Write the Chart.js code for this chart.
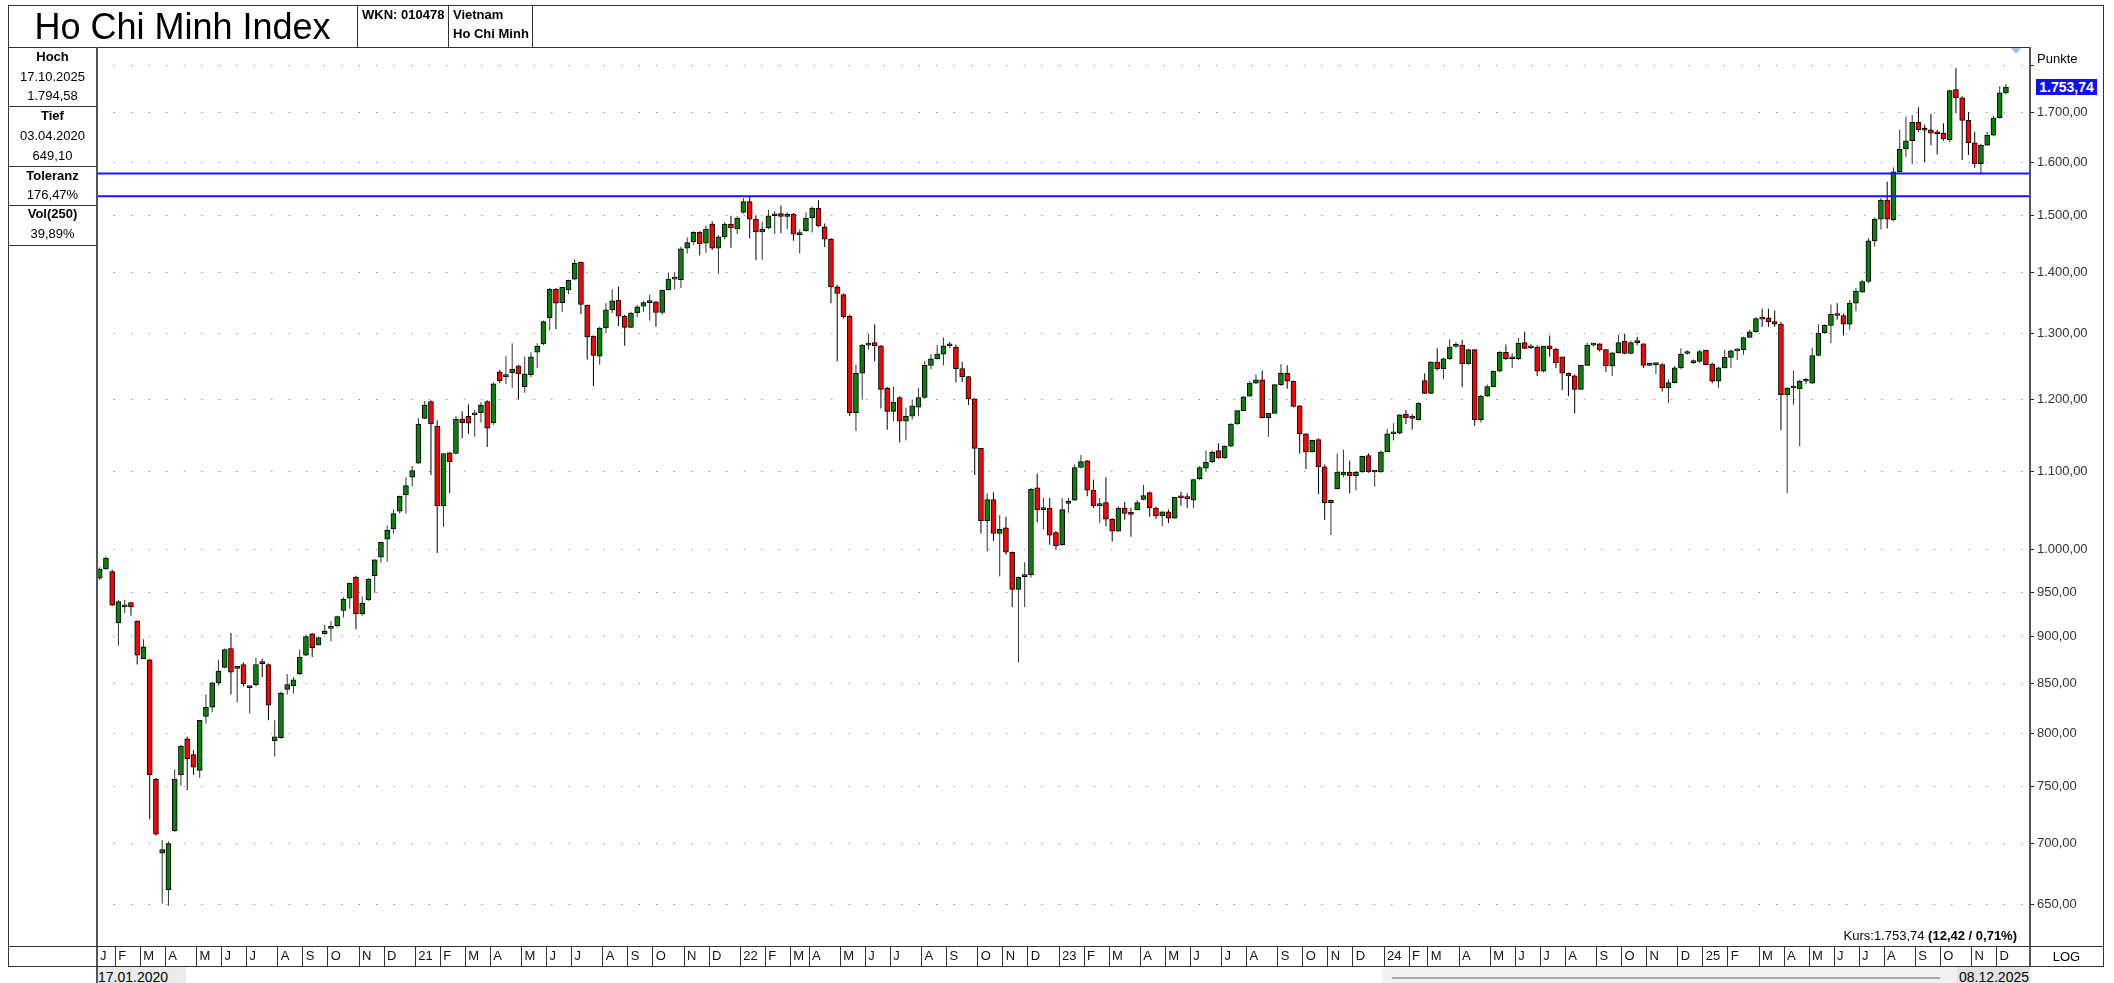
<!DOCTYPE html>
<html>
<head>
<meta charset="utf-8">
<title>Ho Chi Minh Index</title>
<script src="https://cdn.jsdelivr.net/npm/chart.js@4.4.1/dist/chart.umd.min.js"></script>
<style>
  html, body { margin: 0; padding: 0; background: #fff; }
  body { width: 2114px; height: 983px; position: relative; overflow: hidden;
         font-family: "Liberation Sans", Arial, sans-serif; color: #000; }
  #chart { position: absolute; left: 0; top: 0; }
  .ln { position: absolute; background: #333; }
  .t { position: absolute; white-space: nowrap; font-size: 13px; line-height: 13px; }
  .c { text-align: center; }
  .b { font-weight: bold; }
</style>
</head>
<body>
<canvas id="chart" width="2114" height="983"></canvas>

<!-- frame -->
<div class="ln" style="left:8px;top:5px;width:2096px;height:1px"></div>
<div class="ln" style="left:8px;top:47px;width:2023px;height:1px"></div>
<div class="ln" style="left:8px;top:5px;width:1px;height:962px"></div>
<div class="ln" style="left:357px;top:5px;width:1px;height:42px"></div>
<div class="ln" style="left:448px;top:5px;width:1px;height:42px"></div>
<div class="ln" style="left:532px;top:5px;width:1px;height:42px"></div>
<div class="ln" style="left:2103px;top:5px;width:1px;height:962px"></div>
<div class="ln" style="left:96px;top:47px;width:2px;height:936px;background:#555"></div>
<div class="ln" style="left:2029px;top:47px;width:2px;height:920px;background:#555"></div>
<div class="ln" style="left:8px;top:106px;width:89px;height:1px"></div>
<div class="ln" style="left:8px;top:166px;width:89px;height:1px"></div>
<div class="ln" style="left:8px;top:205px;width:89px;height:1px"></div>
<div class="ln" style="left:8px;top:245px;width:89px;height:1px"></div>
<div class="ln" style="left:8px;top:946px;width:2096px;height:1px"></div>
<div class="ln" style="left:8px;top:966px;width:2096px;height:1px"></div>

<!-- header -->
<div class="t c" style="left:8px;top:9px;width:349px;font-size:36px;line-height:36px">Ho Chi Minh Index</div>
<div class="t b" style="left:362px;top:8px">WKN: 010478</div>
<div class="t b" style="left:453px;top:8px">Vietnam</div>
<div class="t b" style="left:453px;top:27px">Ho Chi Minh</div>

<!-- left panel -->
<div class="t c b" style="left:8px;width:89px;top:50px">Hoch</div>
<div class="t c" style="left:8px;width:89px;top:70px">17.10.2025</div>
<div class="t c" style="left:8px;width:89px;top:89px">1.794,58</div>
<div class="t c b" style="left:8px;width:89px;top:109px">Tief</div>
<div class="t c" style="left:8px;width:89px;top:129px">03.04.2020</div>
<div class="t c" style="left:8px;width:89px;top:149px">649,10</div>
<div class="t c b" style="left:8px;width:89px;top:169px">Toleranz</div>
<div class="t c" style="left:8px;width:89px;top:188px">176,47%</div>
<div class="t c b" style="left:8px;width:89px;top:207px">Vol(250)</div>
<div class="t c" style="left:8px;width:89px;top:227px">39,89%</div>

<!-- right side -->
<div class="t" style="left:2037px;top:52px">Punkte</div>
<div style="position:absolute;left:2011px;top:48px;width:0;height:0;border-left:5px solid transparent;border-right:5px solid transparent;border-top:6px solid #9fc4ef"></div>
<div id="lastBox" class="t b" style="left:2036px;top:79px;width:61px;height:16px;line-height:16px;background:#1010f0;color:#fff;font-size:14px;text-align:center"></div>
<div class="t c" style="left:2030px;width:73px;top:950px">LOG</div>
<div id="kurs" class="t" style="right:97px;top:929px"></div>

<!-- date row -->
<div style="position:absolute;left:98px;top:967px;width:88px;height:16px;background:#ebebeb"></div>
<div class="t" style="left:98px;top:970px;font-size:14px;line-height:14px">17.01.2020</div>
<div style="position:absolute;left:1382px;top:967px;width:648px;height:16px;background:#f2f2f2"></div>
<div style="position:absolute;left:1392px;top:977px;width:548px;height:2px;background:#a8a8a8"></div>
<div style="position:absolute;left:1957px;top:967px;width:73px;height:16px;background:#e4e4e4"></div>
<div class="t" style="right:85px;top:970px;font-size:14px;line-height:14px">08.12.2025</div>

<script>
// weekly candles, 17.01.2020 .. 08.12.2025 (Punkte)
var open = [
  966, 977, 974, 915, 933, 938, 917, 876, 875, 757,
  692, 662, 711, 761, 795, 780, 765, 817, 826, 851,
  867, 887, 866, 870, 846, 849, 872, 870, 793, 796,
  844, 848, 860, 880, 903, 891, 903, 909, 912, 929,
  943, 967, 925, 941, 969, 991, 1013, 1026, 1048, 1069,
  1092, 1111, 1173, 1197, 1162, 1055, 1125, 1124, 1172, 1176,
  1178, 1181, 1197, 1167, 1241, 1234, 1240, 1250, 1219, 1237,
  1271, 1284, 1325, 1372, 1350, 1371, 1389, 1418, 1346, 1296,
  1265, 1309, 1338, 1354, 1328, 1310, 1333, 1344, 1350, 1351,
  1334, 1371, 1389, 1388, 1442, 1453, 1470, 1451, 1485, 1442,
  1462, 1485, 1476, 1506, 1526, 1494, 1471, 1478, 1500, 1504,
  1499, 1503, 1466, 1473, 1496, 1514, 1480, 1458, 1376, 1363,
  1328, 1181, 1239, 1282, 1286, 1281, 1217, 1183, 1203, 1169,
  1176, 1189, 1203, 1251, 1261, 1268, 1281, 1279, 1246, 1234,
  1201, 1131, 1036, 1063, 1020, 1027, 997, 953, 968, 970,
  1078, 1050, 1052, 1021, 1006, 1058, 1062, 1105, 1114, 1075,
  1055, 1059, 1038, 1023, 1052, 1045, 1050, 1063, 1072, 1052,
  1042, 1047, 1039, 1066, 1065, 1062, 1090, 1104, 1113, 1128,
  1118, 1134, 1165, 1184, 1205, 1224, 1229, 1174, 1180, 1222,
  1239, 1227, 1191, 1151, 1126, 1143, 1106, 1059, 1077, 1095,
  1099, 1094, 1099, 1121, 1099, 1099, 1126, 1151, 1152, 1179,
  1174, 1171, 1228, 1209, 1256, 1246, 1261, 1280, 1282, 1253,
  1275, 1171, 1205, 1219, 1242, 1271, 1261, 1261, 1286, 1278,
  1279, 1242, 1281, 1276, 1264, 1239, 1235, 1215, 1251, 1282,
  1284, 1275, 1250, 1270, 1288, 1269, 1287, 1284, 1251, 1252,
  1252, 1217, 1225, 1247, 1269, 1255, 1257, 1274, 1253, 1227,
  1247, 1263, 1273, 1275, 1294, 1303, 1324, 1325, 1319, 1315,
  1207, 1217, 1216, 1227, 1224, 1266, 1301, 1313, 1330, 1329,
  1315, 1349, 1367, 1385, 1455, 1494, 1529, 1493, 1582, 1627,
  1643, 1680, 1665, 1665, 1658, 1658, 1645, 1748, 1731, 1684,
  1639, 1598, 1634, 1654, 1689, 1741
];
var high = [
  979, 992, 976, 941, 941, 939, 918, 897, 876, 758,
  703, 702, 766, 789, 797, 784, 813, 839, 852, 875,
  887, 904, 868, 872, 847, 877, 876, 871, 813, 842,
  860, 857, 886, 902, 904, 900, 913, 917, 923, 944,
  961, 969, 945, 966, 989, 1010, 1030, 1050, 1068, 1092,
  1107, 1173, 1198, 1199, 1170, 1124, 1126, 1176, 1183, 1193,
  1185, 1196, 1199, 1225, 1244, 1265, 1285, 1252, 1264, 1271,
  1285, 1321, 1374, 1374, 1376, 1388, 1423, 1419, 1347, 1297,
  1311, 1349, 1372, 1376, 1330, 1335, 1346, 1353, 1363, 1352,
  1371, 1400, 1400, 1445, 1461, 1472, 1472, 1482, 1490, 1465,
  1488, 1500, 1499, 1532, 1535, 1501, 1489, 1511, 1508, 1519,
  1506, 1505, 1475, 1506, 1517, 1529, 1486, 1460, 1379, 1365,
  1330, 1252, 1284, 1300, 1315, 1282, 1219, 1219, 1205, 1188,
  1200, 1217, 1257, 1268, 1282, 1294, 1287, 1283, 1256, 1235,
  1202, 1131, 1071, 1072, 1043, 1041, 998, 968, 985, 1078,
  1097, 1065, 1065, 1023, 1065, 1065, 1109, 1122, 1115, 1089,
  1065, 1092, 1039, 1054, 1060, 1052, 1062, 1082, 1073, 1054,
  1048, 1050, 1066, 1073, 1071, 1090, 1107, 1128, 1128, 1138,
  1135, 1166, 1185, 1205, 1227, 1237, 1243, 1180, 1222, 1253,
  1251, 1228, 1192, 1152, 1143, 1145, 1109, 1063, 1124, 1129,
  1114, 1100, 1121, 1124, 1101, 1128, 1158, 1166, 1179, 1185,
  1179, 1196, 1239, 1257, 1277, 1263, 1291, 1287, 1290, 1276,
  1276, 1207, 1222, 1243, 1273, 1283, 1270, 1293, 1303, 1284,
  1282, 1281, 1297, 1278, 1264, 1240, 1237, 1251, 1286, 1285,
  1285, 1276, 1271, 1298, 1300, 1289, 1295, 1285, 1255, 1255,
  1254, 1230, 1250, 1277, 1274, 1260, 1275, 1275, 1255, 1249,
  1275, 1275, 1277, 1295, 1306, 1326, 1340, 1340, 1337, 1319,
  1218, 1243, 1229, 1232, 1278, 1315, 1315, 1347, 1349, 1332,
  1354, 1374, 1388, 1460, 1497, 1532, 1563, 1591, 1665, 1692,
  1695, 1711, 1675, 1697, 1665, 1678, 1748, 1794.58, 1734, 1701,
  1661, 1637, 1661, 1693, 1755, 1760
];
var low = [
  964, 976, 934, 890, 926, 923, 870, 876, 721, 707,
  651, 649.10, 710, 751, 747, 761, 758, 810, 821, 848,
  866, 839, 831, 847, 820, 847, 857, 813, 778, 795,
  839, 840, 859, 879, 878, 890, 902, 895, 910, 921,
  931, 908, 923, 940, 949, 984, 986, 1020, 1045, 1045,
  1080, 1110, 1172, 1095, 996, 1028, 1071, 1123, 1145, 1151,
  1147, 1167, 1133, 1164, 1224, 1223, 1217, 1200, 1210, 1233,
  1247, 1282, 1305, 1307, 1335, 1364, 1387, 1331, 1260, 1220,
  1252, 1301, 1333, 1312, 1281, 1309, 1326, 1335, 1321, 1311,
  1330, 1370, 1372, 1374, 1433, 1448, 1430, 1434, 1439, 1398,
  1458, 1443, 1467, 1504, 1459, 1421, 1422, 1476, 1467, 1469,
  1476, 1455, 1433, 1471, 1470, 1479, 1444, 1349, 1257, 1324,
  1176, 1155, 1200, 1275, 1257, 1187, 1157, 1169, 1139, 1142,
  1171, 1176, 1201, 1245, 1260, 1251, 1277, 1225, 1226, 1192,
  1095, 1020, 998, 1011, 968, 994, 933, 872, 933, 967,
  1034, 1025, 1006, 1000, 1005, 1046, 1061, 1104, 1067, 1052,
  1033, 1029, 1010, 1022, 1037, 1016, 1049, 1062, 1041, 1038,
  1029, 1033, 1038, 1055, 1052, 1052, 1088, 1099, 1111, 1117,
  1117, 1133, 1164, 1183, 1204, 1223, 1173, 1147, 1180, 1220,
  1216, 1189, 1124, 1103, 1125, 1070, 1037, 1018, 1076, 1092,
  1071, 1075, 1098, 1098, 1080, 1098, 1126, 1142, 1151, 1165,
  1157, 1170, 1208, 1208, 1243, 1230, 1259, 1278, 1218, 1252,
  1162, 1167, 1204, 1218, 1241, 1259, 1247, 1259, 1276, 1276,
  1235, 1240, 1264, 1247, 1214, 1205, 1180, 1214, 1250, 1280,
  1272, 1241, 1235, 1269, 1268, 1268, 1282, 1247, 1250, 1238,
  1212, 1195, 1224, 1245, 1267, 1253, 1255, 1251, 1224, 1217,
  1246, 1247, 1259, 1267, 1293, 1302, 1311, 1311, 1311, 1156,
  1071, 1193, 1134, 1223, 1223, 1265, 1300, 1285, 1322, 1297,
  1306, 1336, 1366, 1382, 1445, 1475, 1477, 1490, 1580, 1611,
  1597, 1661, 1600, 1634, 1616, 1643, 1640, 1699, 1605, 1615,
  1590, 1577, 1633, 1652, 1688, 1738
];
var close = [
  977, 990, 935, 939, 935, 933, 880, 889, 761, 708,
  695, 700, 757, 788, 776, 768, 813, 826, 851, 863,
  886, 862, 867, 850, 846, 870, 871, 828, 797, 840,
  849, 854, 878, 900, 888, 899, 906, 910, 922, 942,
  960, 925, 937, 965, 988, 1009, 1024, 1045, 1067, 1081,
  1101, 1165, 1192, 1165, 1055, 1124, 1113, 1172, 1167, 1166,
  1180, 1192, 1159, 1223, 1228, 1236, 1245, 1238, 1238, 1264,
  1280, 1319, 1372, 1349, 1375, 1387, 1416, 1347, 1295, 1266,
  1309, 1338, 1353, 1328, 1310, 1333, 1343, 1350, 1351, 1334,
  1370, 1389, 1391, 1441, 1452, 1470, 1450, 1476, 1442, 1462,
  1485, 1478, 1496, 1526, 1494, 1471, 1476, 1500, 1502, 1499,
  1502, 1467, 1467, 1496, 1514, 1482, 1458, 1376, 1365, 1327,
  1181, 1239, 1282, 1285, 1281, 1215, 1183, 1196, 1169, 1176,
  1191, 1203, 1251, 1261, 1268, 1281, 1282, 1246, 1234, 1201,
  1131, 1036, 1063, 1020, 1025, 997, 953, 967, 970, 1076,
  1050, 1051, 1018, 1005, 1050, 1061, 1105, 1113, 1075, 1055,
  1057, 1038, 1023, 1052, 1045, 1044, 1059, 1068, 1052, 1042,
  1047, 1039, 1066, 1065, 1064, 1089, 1105, 1112, 1126, 1118,
  1134, 1165, 1184, 1204, 1224, 1229, 1174, 1180, 1222, 1239,
  1227, 1190, 1151, 1126, 1142, 1106, 1059, 1062, 1099, 1099,
  1094, 1099, 1120, 1099, 1100, 1126, 1151, 1152, 1178, 1174,
  1173, 1195, 1209, 1256, 1246, 1261, 1279, 1282, 1253, 1275,
  1171, 1205, 1219, 1242, 1271, 1261, 1262, 1285, 1277, 1279,
  1242, 1280, 1276, 1255, 1239, 1235, 1215, 1251, 1282, 1284,
  1275, 1250, 1270, 1286, 1269, 1286, 1286, 1251, 1252, 1252,
  1217, 1225, 1247, 1268, 1271, 1258, 1272, 1252, 1227, 1247,
  1263, 1273, 1274, 1294, 1303, 1324, 1323, 1319, 1315, 1207,
  1217, 1218, 1227, 1228, 1266, 1301, 1313, 1331, 1329, 1315,
  1349, 1369, 1385, 1455, 1494, 1529, 1494, 1582, 1626, 1643,
  1680, 1665, 1664, 1658, 1657, 1647, 1746, 1731, 1684, 1639,
  1598, 1634, 1654, 1689, 1741.32, 1753.74
];

// x-axis: first week index of each month and its label
var monthStart = [
  0, 3, 7, 11, 16, 20, 24, 29, 33, 37, 42, 46,
  51, 55, 59, 63, 68, 72, 76, 81, 85, 89, 94, 98,
  103, 107, 111, 114, 119, 123, 127, 132, 136, 141, 145, 149,
  154, 158, 162, 167, 171, 175, 180, 184, 189, 193, 197, 201,
  206, 210, 213, 218, 223, 227, 231, 235, 240, 244, 248, 253,
  257, 261, 266, 270, 274, 278, 282, 286, 291, 295, 300, 304
];
var monthLabels = [
  "J", "F", "M", "A", "M", "J", "J", "A", "S", "O", "N", "D",
  "21", "F", "M", "A", "M", "J", "J", "A", "S", "O", "N", "D",
  "22", "F", "M", "A", "M", "J", "J", "A", "S", "O", "N", "D",
  "23", "F", "M", "A", "M", "J", "J", "A", "S", "O", "N", "D",
  "24", "F", "M", "A", "M", "J", "J", "A", "S", "O", "N", "D",
  "25", "F", "M", "A", "M", "J", "J", "A", "S", "O", "N", "D"
];
var yTicks = [650, 700, 750, 800, 850, 900, 950, 1000, 1100, 1200, 1300, 1400, 1500, 1600, 1700, 1800];
var toleranceLines = [1579, 1536];

var xMin = -0.432, xMax = 308.85;
var yMin = 618.2, yMax = 1841;

function fmtDe(v) {
  var parts = v.toFixed(2).split(".");
  return parts[0].replace(/\B(?=(\d{3})+(?!\d))/g, ".") + "," + parts[1];
}

Chart.defaults.font.family = '"Liberation Sans", Arial, sans-serif';

var up = close.map(function (c, i) { return c >= open[i]; });
var bodies = open.map(function (o, i) { return { x: i, y: [o, close[i]] }; });
var wicks = low.map(function (l, i) { return { x: i, y: [l, high[i]] }; });

var datasets = [
  {
    type: "bar",
    label: "Kerze",
    data: bodies,
    backgroundColor: up.map(function (u) { return u ? "#0a800a" : "#ff0000"; }),
    borderColor: "#000",
    borderWidth: 1,
    borderSkipped: false,
    barThickness: 5,
    minBarLength: 2,
    grouped: false,
    order: 0
  },
  {
    type: "bar",
    label: "Docht",
    data: wicks,
    backgroundColor: up.map(function (u) { return u ? "#333" : "#000"; }),
    borderWidth: 0,
    barThickness: 1,
    inflateAmount: 0,
    grouped: false,
    order: 1
  }
];
toleranceLines.forEach(function (v) {
  datasets.push({
    type: "line",
    data: [{ x: xMin, y: v }, { x: xMax, y: v }],
    borderColor: "#1616ff",
    borderWidth: 2,
    pointRadius: 0,
    order: -1
  });
});

var chart = new Chart(document.getElementById("chart"), {
  type: "bar",
  data: { datasets: datasets },
  options: {
    responsive: false,
    devicePixelRatio: 1,
    animation: false,
    layout: { padding: { left: 97, right: 11, top: 47, bottom: 17 } },
    plugins: { legend: { display: false }, tooltip: { enabled: false } },
    scales: {
      x: {
        type: "linear",
        min: xMin,
        max: xMax,
        bounds: "data",
        offset: false,
        grid: { display: true, offset: false, drawOnChartArea: false, drawTicks: true, tickLength: 20, color: "#333", lineWidth: 1 },
        border: { display: false },
        ticks: {
          autoSkip: false, maxRotation: 0, minRotation: 0,
          align: "start", labelOffset: 3, padding: -17,
          color: "#111", font: { size: 13 },
          callback: function (v, i) { return monthLabels[i]; }
        },
        afterBuildTicks: function (s) {
          s.ticks = monthStart.map(function (m) { return { value: Math.max(m - 0.5, xMin) }; });
        },
        afterFit: function (s) { s.height = 20; }
      },
      y: {
        type: "logarithmic",
        position: "right",
        min: yMin,
        max: yMax,
        bounds: "data",
        grid: { color: "#707070", lineWidth: 1, drawTicks: true, tickLength: 4, tickColor: "#222" },
        border: { display: false, dash: [1, 16.5], dashOffset: 0.7 },
        ticks: {
          autoSkip: false, padding: 3, color: "#333", font: { size: 13 },
          callback: function (v) { return v === 1800 ? "" : fmtDe(v); }
        },
        afterBuildTicks: function (s) {
          s.ticks = yTicks.map(function (v) { return { value: v }; });
        },
        afterFit: function (s) { s.width = 73; }
      }
    }
  }
});

var last = close[close.length - 1];
var prev = close[close.length - 2];
var box = document.getElementById("lastBox");
box.textContent = fmtDe(last);
box.style.top = (chart.scales.y.getPixelForValue(last) - 8) + "px";
document.getElementById("kurs").innerHTML = "Kurs:" + fmtDe(last) +
  " <b>(" + fmtDe(last - prev) + " / " + fmtDe((last - prev) / prev * 100) + "%)</b>";
</script>
</body>
</html>
